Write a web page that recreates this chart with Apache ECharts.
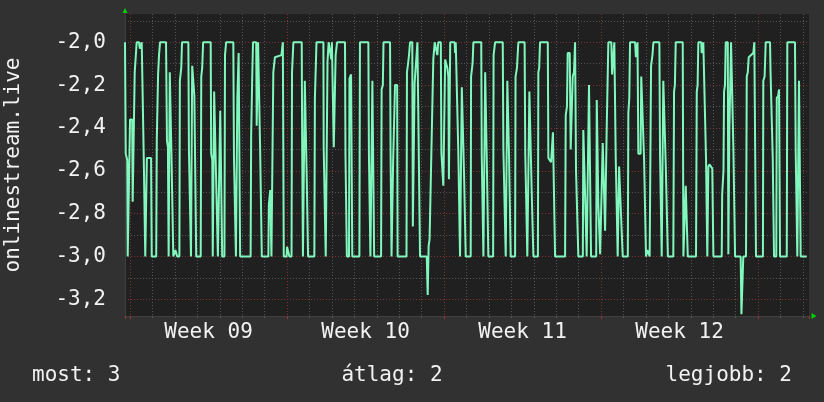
<!DOCTYPE html>
<html><head><meta charset="utf-8">
<script src="https://cdn.jsdelivr.net/npm/echarts@6/dist/echarts.min.js"></script>
<style>html,body{margin:0;padding:0;background:#313131;}#c{width:824px;height:402px;}</style>
</head><body><div id="c"></div>
<script>
// ---- data ----
const seriesName = 'onlinestream.live';
const weekLabels = ['Week 09', 'Week 10', 'Week 11', 'Week 12'];
const timeRangeHours = [-5.4, 726.5];      // shown window, hours from Monday 00:00 of week 09
const valueRange = [-3.278, -1.868];
const summaryLabels = ['most', 'átlag', 'legjobb'];
const summaryValues = [3, 2, 2];
// [hours since Monday 00:00 of week 09, value]
const points = [
[-5.4,-2.0],[-4.8,-2.0],[-4.6,-2.52],[-3.0,-2.55],[-2.5,-3.0],[-0.5,-3.0],[0,-2.36],[2.3,-2.36],[2.8,-2.745],[4.3,-2.745],[5.0,-2.14],[7.1,-2.0],[9.6,-2.0],[10.5,-2.03],[11.5,-2.03],[12.5,-2.0],[14.0,-2.0],[14.6,-2.52],[15.5,-2.52],[16.3,-3.0],[17.5,-3.0],[18,-2.54],[22.5,-2.54],[23.2,-3.0],[28,-3.0],[28.6,-2.46],[30,-2.15],[31,-2.06],[32.1,-2.0],[38.5,-2.0],[39.5,-2.46],[40.5,-2.49],[41.3,-3.0],[42,-3.0],[42.5,-2.14],[43.8,-2.14],[44.3,-2.52],[45.5,-2.52],[46.3,-3.0],[48,-3.0],[48.5,-2.97],[50,-2.97],[50.5,-3.0],[52.8,-3.0],[53.3,-2.18],[54.8,-2.12],[55.6,-2.0],[62.4,-2.0],[63,-2.5],[64.5,-2.5],[65.2,-3.0],[66,-3.0],[66.5,-2.11],[68.3,-2.11],[68.8,-2.25],[70.2,-2.25],[70.8,-3.0],[75.6,-3.0],[76.2,-2.16],[77.2,-2.12],[78.2,-2.0],[86.3,-2.0],[86.8,-2.52],[88,-2.55],[88.5,-3.0],[89.5,-3.0],[90,-2.23],[91.5,-2.23],[92,-2.62],[93.5,-2.62],[94,-3.0],[96,-3.0],[96.5,-2.32],[98,-2.32],[98.6,-3.0],[101,-3.0],[101.6,-2.06],[102.8,-2.0],[110.5,-2.0],[111.2,-2.54],[112.5,-2.54],[113.3,-3.0],[114.3,-3.0],[114.8,-2.26],[115.5,-2.26],[116.2,-2.05],[117.2,-2.05],[117.8,-3.0],[129,-3.0],[129.6,-2.43],[130.8,-2.15],[131.6,-2.0],[135,-2.0],[135.5,-2.39],[136.5,-2.39],[137,-2.0],[138.5,-2.0],[139.2,-2.5],[140.5,-2.5],[141,-3.0],[148,-3.0],[148.5,-2.76],[150,-2.69],[150.8,-2.69],[151.3,-3.0],[152.8,-3.0],[153.3,-2.14],[155,-2.07],[162,-2.06],[163.5,-2.0],[164,-2.0],[164.5,-3.0],[167.5,-3.0],[168,-2.955],[170,-2.955],[170.5,-3.0],[172.8,-3.0],[173.3,-2.14],[174.8,-2.0],[183.7,-2.0],[184.2,-2.5],[185,-3.0],[186.5,-3.0],[187,-2.18],[188.5,-2.18],[189,-2.62],[190,-2.62],[190.5,-3.0],[197.2,-3.0],[197.8,-2.26],[199.5,-2.0],
[206.9,-2.0],[207.2,-2.49],[208.5,-2.49],[209.4,-3.0],[210.8,-3.0],[211.3,-2.09],[212.5,-2.0],[214.5,-2.0],[215.3,-2.08],[216,-2.0],[217.5,-2.0],[218,-2.49],[219.5,-2.49],[220,-2.06],[221.5,-2.0],[230,-2.0],[230.5,-2.52],[231.5,-2.52],[232,-3.0],[234.3,-3.0],[234.8,-2.17],[236.5,-2.15],[237.2,-2.15],[237.8,-3.0],[245.4,-3.0],[246,-2.0],[255,-2.0],[255.6,-2.52],[256.5,-2.52],[257.2,-3.0],[258.8,-3.0],[259.3,-2.18],[260.5,-2.18],[261.2,-3.0],[268.6,-3.0],[269.2,-2.22],[270.5,-2.2],[271.2,-2.0],[278.2,-2.0],[278.8,-2.53],[279.8,-3.0],[281,-3.0],[281.5,-2.56],[283,-2.56],[283.5,-2.2],[285.8,-2.2],[286.3,-3.0],[295.8,-3.0],[296.3,-2.14],[297.5,-2.1],[298.5,-2.06],[299.6,-2.0],[302,-2.0],[302.6,-2.86],[304,-2.86],[304.5,-2.19],[306,-2.19],[307.5,-2.0],[309.5,-2.0],[310.3,-3.0],[317.5,-3.0],[318.5,-3.18],[319.5,-2.95],[320.5,-2.92],[321.5,-2.71],[323.5,-2.71],[324.5,-2.08],[326,-2.0],[327.8,-2.0],[328.8,-2.06],[329.8,-2.0],[332.5,-2.0],[333.2,-2.52],[334.5,-2.52],[335.2,-2.67],[336.5,-2.67],[337.2,-2.08],[338.5,-2.08],[339.5,-2.12],[340.6,-2.16],[341.2,-2.64],[342,-2.64],[342.6,-2.0],[347.3,-2.0],[347.8,-2.05],[348.5,-2.0],[350.5,-2.0],[351.3,-2.52],[352.2,-2.52],[353.1,-3.0],[354.5,-3.0],[355,-2.21],[356.8,-2.21],[357.4,-2.62],[358.5,-2.62],[359.2,-3.0],[364.5,-3.0],[364.9,-2.16],[366.5,-2.1],[367.4,-2.0],[375.8,-2.0],[376.3,-2.52],[377.3,-2.52],[378.1,-3.0],[379.5,-3.0],[380,-2.14],[381,-2.14],[381.6,-2.52],[382.6,-2.52],[383.4,-3.0],[388.5,-3.0],[389,-2.06],[390.6,-2.0],[398.8,-2.0],[399.5,-2.5],[401.2,-2.5],[402,-3.0],[403.2,-3.0],[403.7,-2.18],[405,-2.18],[405.5,-2.52],[406.5,-2.52],[407.3,-3.0],[412,-3.0],[412.5,-2.16],[414,-2.12],[415.5,-2.0],
[422.2,-2.0],[422.9,-2.52],[424,-2.52],[425.1,-3.0],[426.8,-3.0],[427.3,-2.23],[429.3,-2.23],[429.8,-2.7],[431,-2.7],[431.6,-3.0],[436.4,-3.0],[436.9,-2.14],[437.8,-2.12],[438.7,-2.0],[447,-2.0],[447.6,-2.54],[450.5,-2.56],[451.2,-2.56],[452.5,-2.42],[453.5,-2.42],[454.8,-3.0],[465.5,-3.0],[466.2,-2.34],[467.5,-2.3],[468.3,-2.05],[470.5,-2.05],[471.5,-2.5],[472.8,-2.5],[473.7,-2.16],[475,-2.14],[476.2,-2.0],[477.2,-2.6],[478.5,-2.6],[479.7,-3.0],[484.5,-3.0],[485,-2.41],[486.3,-2.41],[486.9,-2.71],[488,-2.71],[488.6,-3.0],[490.5,-3.0],[491.1,-2.2],[492.6,-2.2],[493.3,-3.0],[498.8,-3.0],[499.4,-2.27],[500.5,-2.27],[501.1,-2.76],[502.3,-2.76],[503,-2.99],[504.5,-2.99],[505.8,-2.47],[507.2,-2.47],[508.3,-2.88],[509.2,-2.88],[510,-2.41],[511,-2.41],[511.8,-2.0],[515,-2.0],[515.8,-2.15],[517.3,-2.15],[518.2,-2.0],[519,-2.0],[519.7,-2.54],[520.8,-2.54],[521.8,-3.0],[522.8,-3.0],[523.3,-2.58],[524.7,-2.58],[525.4,-2.81],[526.4,-2.81],[527.2,-3.0],[532.6,-3.0],[533.2,-2.33],[534.2,-2.26],[535,-2.0],[540.4,-2.0],[541.3,-2.07],[542.2,-2.07],[543,-2.0],[543.5,-2.0],[543.9,-2.52],[546.3,-2.52],[547,-2.16],[549,-2.16],[550,-2.54],[551.2,-2.54],[552.1,-3.0],[553,-3.0],[553.5,-2.97],[555.5,-2.97],[556,-3.0],[557.1,-3.0],[557.5,-2.11],[559,-2.06],[560,-2.0],[566.4,-2.0],[567.1,-2.52],[568,-2.52],[568.9,-3.0],[570,-3.0],[570.6,-2.18],[572.6,-2.18],[573.2,-2.57],[574.3,-2.57],[575.5,-3.0],[581.3,-3.0],[582.1,-2.23],[583,-2.2],[583.9,-2.0],[591.4,-2.0],[592.1,-3.0],[594,-3.0],[594.6,-2.67],[596.3,-2.67],[596.8,-3.0],[605.6,-3.0],[606.4,-2.23],[607.3,-2.2],[608.1,-2.0],
[611.2,-2.0],[611.7,-2.05],[613,-2.05],[613.4,-2.0],[614.8,-2.0],[616.3,-2.54],[617.2,-2.54],[617.7,-3.0],[618.3,-3.0],[618.8,-2.58],[620,-2.57],[623,-2.59],[624.2,-3.0],[633.1,-3.0],[633.6,-2.71],[635,-2.6],[635.6,-2.23],[636.6,-2.2],[637.4,-2.0],[639.6,-2.0],[640.2,-2.99],[640.8,-2.99],[641.3,-2.41],[642.3,-2.41],[643.1,-2.0],[645,-2.0],[645.6,-2.5],[646.5,-2.5],[647.4,-3.0],[653.4,-3.0],[654.2,-3.27],[655.3,-3.27],[656.2,-3.0],[659.1,-3.0],[659.9,-2.16],[661,-2.14],[662,-2.07],[666.9,-2.05],[668,-2.0],[669,-2.0],[669.8,-3.0],[677.2,-3.0],[677.6,-2.18],[679,-2.16],[680.2,-2.0],[684.8,-2.0],[685.3,-2.13],[686.8,-2.13],[687.7,-2.54],[688.4,-2.54],[689.1,-3.0],[691.5,-3.0],[692,-2.26],[693.5,-2.25],[694.4,-2.22],[695,-2.22],[695.5,-3.0],[702.7,-3.0],[703.3,-2.0],[711.5,-2.0],[712.3,-2.52],[713.2,-2.52],[714,-3.0],[715.2,-3.0],[715.8,-2.18],[717,-2.18],[717.6,-3.0],[724.1,-3.0]
];

// ---- styles ----
const FONT = 'DejaVu Sans Mono';
const FS = 21;
const TXT = '#f2f2f2';
const RED = '#803232';
const GREY = '#555555';
const AXIS = '#404040';
const ARROW = '#00d000';
const HOURS_PER_WEEK = 168;

const chart = echarts.init(document.getElementById('c'), null, {renderer: 'canvas'});
const wkMin = timeRangeHours[0] / HOURS_PER_WEEK, wkMax = timeRangeHours[1] / HOURS_PER_WEEK;
const midOff = 84 / HOURS_PER_WEEK;

chart.setOption({
  animation: false,
  backgroundColor: '#313131',
  title: [
    {text: summaryLabels[0] + ': ' + summaryValues[0], left: 32, top: 365},
    {text: summaryLabels[1] + ': ' + summaryValues[1], left: 392, top: 365, textAlign: 'center'},
    {text: summaryLabels[2] + ': ' + summaryValues[2], right: 32, top: 365}
  ].map(t => Object.assign(t, {padding: 0, textStyle: {color: TXT, fontFamily: FONT, fontSize: FS, fontWeight: 'normal'}})),
  grid: {left: 125, right: 15, top: 14, bottom: 86, containLabel: false, outerBoundsMode: 'none',
    show: true, backgroundColor: '#202020', borderWidth: 0},
  xAxis: [
    {type: 'value', min: timeRangeHours[0], max: timeRangeHours[1], show: false},
    {type: 'value', position: 'bottom', min: wkMin, max: wkMax, splitNumber: 4,
      axisLine: {show: true, onZero: false, lineStyle: {color: AXIS, width: 1}},
      axisTick: {show: true, length: 3, lineStyle: {color: '#a03535'}},
      minorTick: {show: true, splitNumber: 7, length: 2, lineStyle: {color: GREY}},
      axisLabel: {show: false},
      splitLine: {show: true, showMinLine: false, showMaxLine: false, lineStyle: {color: RED, type: [1, 2], width: 1}},
      minorSplitLine: {show: true, lineStyle: {color: GREY, type: [1, 2], width: 1}}},
    {type: 'value', position: 'bottom', min: wkMin - midOff, max: wkMax - midOff, splitNumber: 4,
      axisLine: {show: true, onZero: false, symbol: ['none', 'triangle'], symbolSize: [6, 5], symbolOffset: [0, 5], lineStyle: {color: ARROW, width: 0}},
      axisTick: {show: false}, splitLine: {show: false},
      axisLabel: {show: true, color: TXT, fontFamily: FONT, fontSize: FS, margin: 6, showMinLabel: false, showMaxLabel: false,
        formatter: v => { const i = Math.round(v); return (Math.abs(v - i) < 1e-6 && weekLabels[i]) ? weekLabels[i] : ''; }}}
  ],
  yAxis: [
    {type: 'value', min: valueRange[0], max: valueRange[1], splitNumber: 7,
      name: seriesName, nameLocation: 'middle', nameGap: 101,
      nameTextStyle: {color: TXT, fontFamily: FONT, fontSize: FS},
      axisLine: {show: true, onZero: false, lineStyle: {color: AXIS, width: 1}},
      axisTick: {show: false},
      minorTick: {show: false, splitNumber: 2},
      axisLabel: {color: TXT, fontFamily: FONT, fontSize: FS, margin: 19, showMinLabel: false, showMaxLabel: false,
        formatter: v => v.toFixed(1).replace('.', ',')},
      splitLine: {show: true, showMinLine: false, showMaxLine: false, lineStyle: {color: RED, type: [1, 2], width: 1}},
      minorSplitLine: {show: true, lineStyle: {color: GREY, type: [1, 2], width: 1}}},
    {type: 'value', position: 'left', min: valueRange[0], max: valueRange[1],
      axisLine: {show: true, onZero: false, symbol: ['none', 'triangle'], symbolSize: [5, 5], symbolOffset: [0, 3.5], lineStyle: {color: ARROW, width: 0}},
      axisTick: {show: false}, axisLabel: {show: false}, splitLine: {show: false}}
  ],
  series: [{
    name: seriesName, type: 'line', xAxisIndex: 0, yAxisIndex: 0,
    data: points, showSymbol: false, symbol: 'none', clip: true,
    lineStyle: {color: '#80f8bd', width: 2}
  }]
});
</script></body></html>
